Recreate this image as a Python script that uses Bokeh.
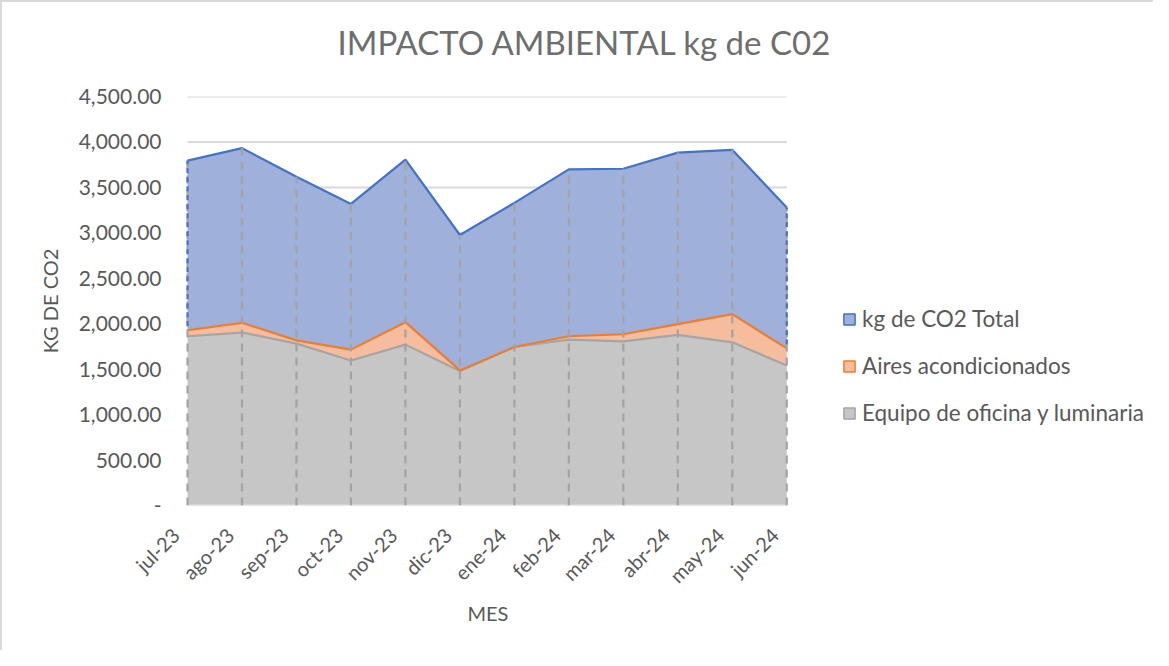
from bokeh.plotting import figure
from bokeh.models import (Range1d, FixedTicker, NumeralTickFormatter, Title, Legend, LegendItem,
                          ColumnDataSource)
from bokeh.embed import file_html
from bokeh.resources import INLINE
import math

meses = ["jul-23", "ago-23", "sep-23", "oct-23", "nov-23", "dic-23",
         "ene-24", "feb-24", "mar-24", "abr-24", "may-24", "jun-24"]
equipo = [1862, 1903, 1781, 1596, 1770, 1479, 1744, 1825, 1806, 1877, 1795, 1541]
aires = [66, 107, 36, 119, 247, 7, 0, 37, 78, 118, 310, 188]
total = [1867, 1922, 1800, 1603, 1788, 1490, 1586, 1836, 1821, 1888, 1808, 1549]
y_ticks = [0, 500, 1000, 1500, 2000, 2500, 3000, 3500, 4000, 4500]

FONT = "Lato"
TXT = "#595959"

# layout (pixels)
FIG_W, FIG_H = 1153, 650
SHIFT_PX = 12                      # tick labels sit slightly left of the category
DATA_LEFT = 185                    # distance from figure content edge to first category
MB_LEFT, MB_TOP, MB_BOTTOM = DATA_LEFT - SHIFT_PX, 94, 147
DATA_W = 598                       # width occupied by the data (jul-23 .. jun-24)
FRAME_W = FIG_W - 2 - MB_LEFT
n_last = len(meses) - 1
px = n_last / DATA_W               # data units per pixel
x_start = -SHIFT_PX * px
x_end = x_start + FRAME_W * px
LABEL_SHIFT = SHIFT_PX * px

x = list(range(len(meses)))
top1 = equipo
top2 = [a + b for a, b in zip(equipo, aires)]
top3 = [a + b for a, b in zip(top2, total)]
src = ColumnDataSource(dict(x=x, equipo=equipo, aires=aires, total=total,
                            top1=top1, top2=top2, top3=top3, zero=[0] * len(x)))

p = figure(width=FIG_W, height=FIG_H, output_backend="svg", toolbar_location=None,
           x_range=Range1d(x_start, x_end), y_range=Range1d(0, max(y_ticks)),
           min_border_left=MB_LEFT, min_border_right=0, min_border_top=MB_TOP,
           min_border_bottom=MB_BOTTOM)
p.styles = {"border-left": "2px solid #D9D9D9", "border-top": "2px solid #D9D9D9",
            "box-sizing": "border-box"}
p.outline_line_color = None
p.background_fill_color = "white"

# horizontal gridlines limited to the data span
gsrc = ColumnDataSource(dict(y=y_ticks[1:], x0=[0] * (len(y_ticks) - 1),
                             x1=[n_last] * (len(y_ticks) - 1)))
p.segment(x0="x0", y0="y", x1="x1", y1="y", source=gsrc, line_color="#D9D9D9", line_width=2)

p.varea_stack(stackers=["equipo", "aires", "total"], x="x", source=src,
              color=["#C6C6C6", "#F6BC9E", "#9FB0DB"])
# baseline (category axis line)
p.segment(x0=[0], y0=[0], x1=[n_last], y1=[0], line_color="#D9D9D9", line_width=2.5)
p.line("x", "top1", source=src, line_color="#A5A5A5", line_width=2.2)
p.line("x", "top2", source=src, line_color="#ED7D31", line_width=2.2)
p.line("x", "top3", source=src, line_color="#4472C4", line_width=2.2)
# drop lines
p.segment(x0="x", y0="zero", x1="x", y1="top3", source=src,
          line_color="#A3A3A3", line_width=2.2, line_dash="8 6")
# dashed blue edges of the total area
esrc = ColumnDataSource(dict(x=[x[0], x[-1]], y0=[top2[0], top2[-1]], y1=[top3[0], top3[-1]]))
p.segment(x0="x", y0="y0", x1="x", y1="y1", source=esrc,
          line_color="#4472C4", line_width=2.2, line_dash="5 4", line_dash_offset=5)

# legend swatches (no visible geometry)
nan = float("nan")
e = ColumnDataSource(dict(l=[nan], r=[nan], t=[nan], b=[nan]))
q1 = p.quad(left="l", right="r", top="t", bottom="b", source=e,
            fill_color="#9FB0DB", line_color="#4472C4", line_width=1.5)
q2 = p.quad(left="l", right="r", top="t", bottom="b", source=e,
            fill_color="#F6BC9E", line_color="#ED7D31", line_width=1.5)
q3 = p.quad(left="l", right="r", top="t", bottom="b", source=e,
            fill_color="#C6C6C6", line_color="#A5A5A5", line_width=1.5)
legend = Legend(items=[LegendItem(label="kg de CO2 Total", renderers=[q1]),
                       LegendItem(label="Aires acondicionados", renderers=[q2]),
                       LegendItem(label="Equipo de oficina y luminaria", renderers=[q3])],
                location=(655 + SHIFT_PX, 79), orientation="vertical",
                glyph_width=14, glyph_height=14, label_standoff=6, spacing=20,
                label_text_font=FONT, label_text_font_size="22.5px", label_text_color=TXT,
                border_line_color=None, background_fill_alpha=0, padding=0, margin=0)
p.add_layout(legend, "center")

# title (with an invisible spacer between it and the frame)
spacer = Title(text=" ", text_font_size="30px", standoff=0)
p.add_layout(spacer, "above")
p.title.text = "IMPACTO AMBIENTAL kg de C02"
p.title.align = "left"
p.title.offset = 150 + SHIFT_PX
p.title.text_font = FONT
p.title.text_font_size = "33px"
p.title.text_font_style = "normal"
p.title.text_color = "#6E6E6E"
p.title.standoff = 0

# axes
label_ticks = [i - LABEL_SHIFT for i in x]
p.xaxis.ticker = FixedTicker(ticks=label_ticks)
p.xaxis.bounds = (x_start, n_last)
p.xaxis.major_label_overrides = {t: m for t, m in zip(label_ticks, meses)}
p.xaxis.major_label_orientation = math.pi / 4
p.xaxis.axis_line_color = None
p.xaxis.major_tick_line_color = None
p.xaxis.minor_tick_line_color = None
p.xaxis.major_label_text_font = FONT
p.xaxis.major_label_text_font_size = "20px"
p.xaxis.major_label_text_color = TXT
p.xaxis.major_label_standoff = 20

mes = Title(text="MES", align="left", offset=SHIFT_PX + DATA_W / 2 - 19, text_font=FONT,
            text_font_size="20px", text_font_style="normal", text_color=TXT, standoff=0)
p.add_layout(mes, "below")

p.yaxis.ticker = FixedTicker(ticks=y_ticks)
p.yaxis.formatter = NumeralTickFormatter(format="0,0.00")
p.yaxis.major_label_overrides = {0: "-"}
p.yaxis.axis_line_color = None
p.yaxis.major_tick_line_color = None
p.yaxis.minor_tick_line_color = None
p.yaxis.major_label_text_font = FONT
p.yaxis.major_label_text_font_size = "21px"
p.yaxis.major_label_text_color = TXT
p.yaxis.major_label_standoff = 20 - SHIFT_PX
p.yaxis.axis_label = "KG DE CO2"
p.yaxis.axis_label_text_font = FONT
p.yaxis.axis_label_text_font_size = "20px"
p.yaxis.axis_label_text_font_style = "normal"
p.yaxis.axis_label_text_color = TXT
p.yaxis.axis_label_standoff = 14

p.xgrid.grid_line_color = None
p.ygrid.grid_line_color = None

open("out.html", "w").write(file_html(p, INLINE))
